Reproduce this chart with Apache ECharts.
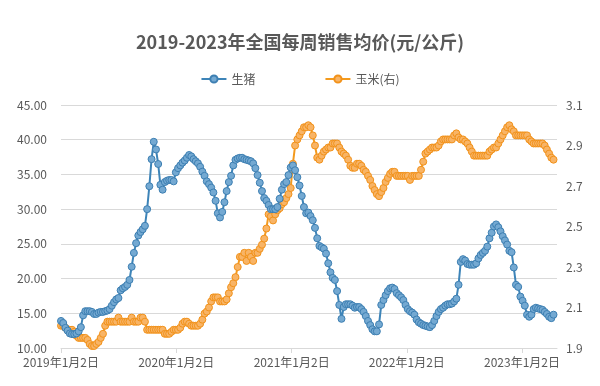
<!DOCTYPE html>
<html>
<head>
<meta charset="utf-8">
<script src="https://cdn.jsdelivr.net/npm/echarts@6/dist/echarts.min.js"></script>
<style>html,body{margin:0;padding:0;background:#fff}#c{width:600px;height:386px}</style>
</head>
<body>
<div id="c"></div>
<script>
// Weekly series start (first Wednesday of 2019), one value per week
var startDate = [2019, 0, 2];
var seriesNames = ['生猪', '玉米(右)'];
var yearTicks = ['2019-01-02', '2020-01-02', '2021-01-02', '2022-01-02', '2023-01-02'];
var leftTicks = [10, 15, 20, 25, 30, 35, 40, 45];
var rightTicks = [1.9, 2.1, 2.3, 2.5, 2.7, 2.9, 3.1];

// 生猪 (元/公斤), weekly
var pork2019 = [13.9,13.6,12.9,12.5,12.1,12.0,12.0,12.1,12.4,13.0,14.7,15.3,15.3,15.3,15.2,14.9,14.9,15.1,15.2,15.2,15.3,15.4,15.6,16.1,16.6,17.0,17.2,18.3,18.6,18.8,19.1,19.8,21.7,23.7,25.1,26.2,26.7,27.1,27.6,30.0,33.3,37.2,39.7,38.6,36.5,33.5,32.8,33.9,34.1,34.2,34.2,34.0];
var pork2020 = [35.3,35.9,36.3,36.7,37.0,37.4,37.8,37.6,37.2,36.9,36.6,36.1,35.4,34.8,34.0,33.6,33.1,32.4,31.2,29.4,28.8,29.6,31.0,32.6,33.9,34.8,36.3,37.1,37.3,37.4,37.4,37.2,37.1,37.0,36.9,36.6,35.9,34.9,33.8,32.6,31.6,31.2,30.6,30.0,30.0,30.0,30.3,31.5,32.8,33.6,33.9,34.9,36.0];
var pork2021 = [36.3,35.6,34.6,33.4,31.9,30.3,29.4,29.5,29.0,28.4,27.3,25.8,24.7,24.5,24.3,23.6,22.2,20.9,20.1,19.8,18.2,16.2,14.2,15.9,16.3,16.3,16.3,16.1,15.8,15.9,15.9,15.6,15.2,14.6,13.9,13.3,12.7,12.4,12.4,13.4,16.2,16.9,17.6,18.2,18.6,18.7,18.5,17.9,17.6,17.3,16.9,16.2];
var pork2022 = [15.6,15.3,15.1,14.8,14.1,13.7,13.5,13.3,13.2,13.1,13.0,13.3,13.9,14.6,15.2,15.6,15.8,16.1,16.3,16.3,16.4,16.7,17.1,19.1,22.4,22.8,22.6,22.1,22.0,22.0,22.0,22.2,22.9,23.4,23.7,24.0,24.6,25.8,26.6,27.5,27.8,27.4,26.8,26.1,25.5,24.9,24.0,23.8,21.6,19.1,18.8,17.4];
var pork2023 = [16.8,16.1,14.8,14.5,14.8,15.6,15.8,15.7,15.6,15.5,15.2,14.9,14.5,14.3,14.8];

// 玉米 (元/公斤), weekly
var corn2019 = [2.01,2.01,2.00,1.99,1.99,1.99,1.98,1.96,1.95,1.95,1.95,1.95,1.94,1.92,1.91,1.91,1.92,1.93,1.95,1.97,2.01,2.03,2.03,2.03,2.03,2.03,2.05,2.03,2.03,2.03,2.03,2.03,2.05,2.03,2.03,2.03,2.05,2.05,2.03,1.99,1.99,1.99,1.99,1.99,1.99,1.99,1.99,1.97,1.97,1.97,1.98,1.99];
var corn2020 = [1.99,1.99,2.00,2.02,2.03,2.03,2.02,2.01,2.01,2.01,2.01,2.02,2.04,2.07,2.08,2.10,2.13,2.15,2.15,2.15,2.13,2.13,2.13,2.14,2.17,2.20,2.22,2.25,2.30,2.35,2.35,2.37,2.33,2.37,2.35,2.33,2.37,2.37,2.39,2.41,2.44,2.49,2.56,2.55,2.53,2.56,2.58,2.59,2.61,2.62,2.64,2.66,2.69];
var corn2021 = [2.81,2.90,2.93,2.95,2.97,2.99,2.99,3.00,2.99,2.95,2.90,2.84,2.83,2.85,2.87,2.88,2.89,2.89,2.91,2.91,2.91,2.89,2.87,2.86,2.85,2.83,2.80,2.79,2.79,2.81,2.81,2.80,2.78,2.77,2.75,2.73,2.70,2.68,2.66,2.65,2.67,2.69,2.72,2.74,2.76,2.77,2.77,2.75,2.75,2.75,2.75,2.75];
var corn2022 = [2.75,2.73,2.75,2.75,2.75,2.75,2.78,2.82,2.86,2.87,2.88,2.89,2.89,2.89,2.90,2.92,2.93,2.93,2.93,2.93,2.93,2.95,2.96,2.94,2.93,2.93,2.92,2.91,2.89,2.87,2.85,2.85,2.85,2.85,2.85,2.85,2.85,2.87,2.88,2.89,2.89,2.91,2.93,2.95,2.97,2.99,3.00,2.98,2.97,2.95,2.95,2.95];
var corn2023 = [2.95,2.95,2.95,2.93,2.92,2.91,2.91,2.91,2.91,2.91,2.90,2.88,2.86,2.84,2.83];

var pork = [].concat(pork2019, pork2020, pork2021, pork2022, pork2023);
var corn = [].concat(corn2019, corn2020, corn2021, corn2022, corn2023);

function weekDate(i) {
  return new Date(startDate[0], startDate[1], startDate[2] + 7 * i).getTime();
}
function toTs(s) {
  var p = s.split('-');
  return new Date(+p[0], +p[1] - 1, +p[2]).getTime();
}
var porkData = pork.map(function (v, i) { return [weekDate(i), v]; });
var cornData = corn.map(function (v, i) { return [weekDate(i), v]; });
var tickTs = yearTicks.map(toTs);
var xMin = tickTs[0];
var xMax = new Date(2023, 3, 23).getTime();

var FONT = '"Noto Sans CJK SC", "Noto Sans", sans-serif';
var chart = echarts.init(document.getElementById('c'), null, {renderer: 'canvas'});
chart.setOption({
  animation: false,
  backgroundColor: '#ffffff',
  textStyle: {fontFamily: FONT},
  title: {
    text: '2019-2023年全国每周销售均价(元/公斤)',
    left: 'center',
    top: 28,
    textStyle: {fontSize: 18, fontWeight: 'bold', color: '#595959', fontFamily: FONT}
  },
  legend: {
    top: 68,
    left: 'center',
    itemGap: 69,
    itemWidth: 25,
    itemHeight: 9,
    textStyle: {fontSize: 12, color: '#595959', fontFamily: FONT},
    data: seriesNames
  },
  grid: {left: 61, right: 43, top: 105, bottom: 38},
  xAxis: {
    type: 'value',
    min: xMin,
    max: xMax,
    axisLine: {show: true, lineStyle: {color: '#d9d9d9', width: 1}},
    axisTick: {show: true, length: 5, lineStyle: {color: '#d9d9d9'}, customValues: tickTs},
    splitLine: {show: false},
    axisLabel: {
      customValues: tickTs,
      color: '#595959',
      fontSize: 12,
      fontFamily: FONT,
      margin: 8,
      formatter: function (v) {
        var d = new Date(v);
        return d.getFullYear() + '年' + (d.getMonth() + 1) + '月' + d.getDate() + '日';
      }
    }
  },
  yAxis: [
    {
      type: 'value',
      min: leftTicks[0],
      max: leftTicks[leftTicks.length - 1],
      interval: 5,
      axisLine: {show: false},
      axisTick: {show: false},
      splitLine: {lineStyle: {color: '#d9d9d9', width: 1}},
      axisLabel: {color: '#595959', fontSize: 12, fontFamily: FONT, margin: 14,
        formatter: function (v) { return v.toFixed(2); }}
    },
    {
      type: 'value',
      min: rightTicks[0],
      max: rightTicks[rightTicks.length - 1],
      axisLine: {show: false},
      axisTick: {show: false},
      splitLine: {show: false},
      axisLabel: {customValues: rightTicks, color: '#595959', fontSize: 12, fontFamily: FONT, margin: 9,
        formatter: function (v) { return (+v).toFixed(1); }}
    }
  ],
  series: [
    {
      name: seriesNames[0],
      type: 'line',
      yAxisIndex: 0,
      data: porkData,
      symbol: 'circle',
      symbolSize: 7,
      showAllSymbol: true,
      lineStyle: {color: '#3d84b8', width: 2},
      itemStyle: {color: '#74a9d2', borderColor: '#3d7fb2', borderWidth: 1},
      z: 3
    },
    {
      name: seriesNames[1],
      type: 'line',
      yAxisIndex: 1,
      data: cornData,
      symbol: 'circle',
      symbolSize: 7,
      showAllSymbol: true,
      lineStyle: {color: '#f39a1e', width: 2},
      itemStyle: {color: '#f8b466', borderColor: '#f2921a', borderWidth: 1},
      z: 2
    }
  ]
});
</script>
</body>
</html>
